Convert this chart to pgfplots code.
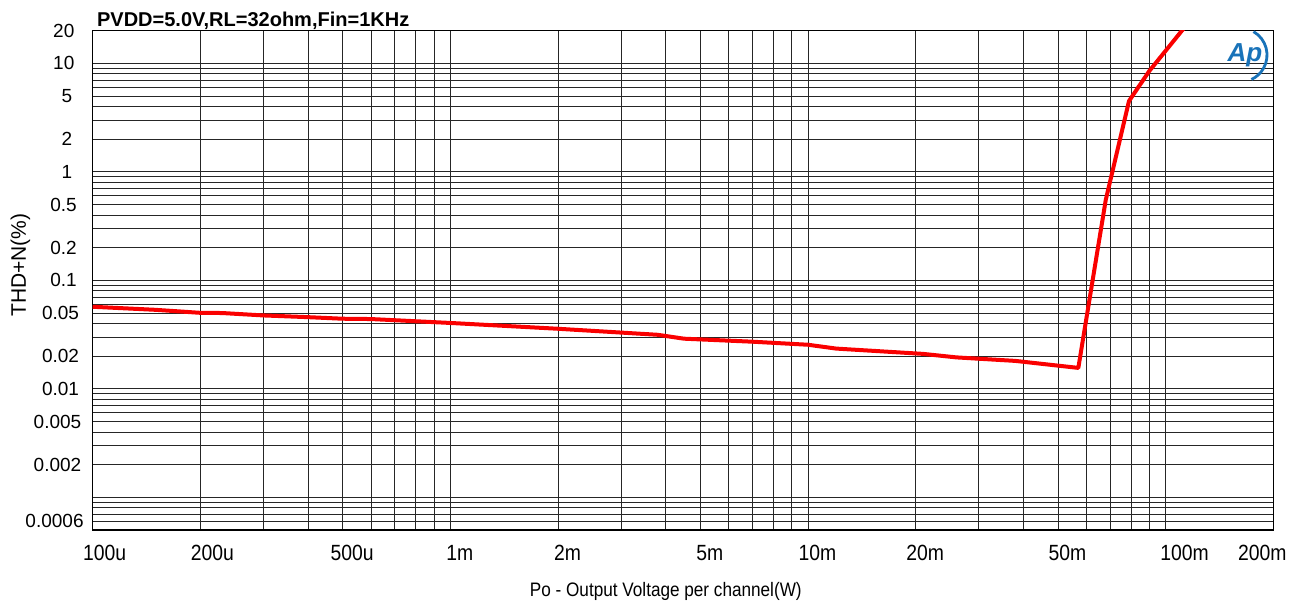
\documentclass[border=0pt]{standalone}
\usepackage{fontspec}
\setmainfont{Liberation Sans}
\newfontfamily\narrowsans[FakeStretch=0.88]{Liberation Sans}
\usepackage{pgfplots}
\pgfplotsset{compat=1.18}
\definecolor{apblue}{RGB}{25,115,185}
\definecolor{curvered}{RGB}{250,0,0}

\begin{document}
\begin{tikzpicture}
\useasboundingbox (0,0) rectangle (649.5pt,303.5pt);
\begin{axis}[
  at={(46.35pt,38.5pt)}, anchor=south west,
  scale only axis, width=590.3pt, height=249.65pt,
  xmode=log, ymode=log,
  xmin=1e-4, xmax=0.2, ymin=0.0005, ymax=20,
  xtick={1e-4,2e-4,5e-4,1e-3,2e-3,5e-3,0.01,0.02,0.05,0.1,0.2},
  xticklabels={{\hspace*{2.5pt}100u},{\hspace*{2.5pt}200u},500u,1m,2m,5m,10m,20m,50m,{\hspace*{9.5pt}100m},{200m\hspace*{20.5pt}}},
  ytick={0.0006,0.002,0.005,0.01,0.02,0.05,0.1,0.2,0.5,1,2,5,10,20},
  yticklabels={{0.0006\hspace*{0.35pt}},{0.002\hspace*{1.5pt}},{0.005\hspace*{1.5pt}},{0.01\hspace*{2.65pt}},{0.02\hspace*{2.65pt}},{0.05\hspace*{2.65pt}},{0.1\hspace*{3.8pt}},{0.2\hspace*{3.8pt}},{0.5\hspace*{3.8pt}},{1\hspace*{6.1pt}},{2\hspace*{6.1pt}},{5\hspace*{6.1pt}},{10\hspace*{4.95pt}},{20\hspace*{4.95pt}}},
  minor xtick={1e-4,2e-4,3e-4,4e-4,5e-4,6e-4,7e-4,8e-4,9e-4,
               1e-3,2e-3,3e-3,4e-3,5e-3,6e-3,7e-3,8e-3,9e-3,
               0.01,0.02,0.03,0.04,0.05,0.06,0.07,0.08,0.09,0.1,0.2},
  minor ytick={0.0006,0.0007,0.0008,0.0009,
               0.001,0.002,0.003,0.004,0.005,0.006,0.007,0.008,0.009,
               0.01,0.02,0.03,0.04,0.05,0.06,0.07,0.08,0.09,
               0.1,0.2,0.3,0.4,0.5,0.6,0.7,0.8,0.9,
               1,2,3,4,5,6,7,8,9,10,20},
  xmajorgrids, ymajorgrids, xminorgrids, yminorgrids,
  grid style={black!85, line width=0.45pt},
  minor grid style={black!85, line width=0.45pt},
  major tick length=0pt, minor tick length=0pt,
  axis line style={black, line width=0.6pt},
  xticklabel style={font=\narrowsans\fontsize{11}{13}\selectfont, anchor=north, inner sep=0pt, yshift=-7.5pt, xshift=4.75pt},
  yticklabel style={font=\fontsize{9.5}{11}\selectfont, anchor=east, inner sep=0pt, xshift=-4pt},
]
% THD+N versus output power
\addplot[curvered, line width=2pt, line join=round] coordinates {
  (1e-4,0.0571) (1.5e-4,0.0535) (2e-4,0.0502) (2.3e-4,0.0500)
  (3e-4,0.0475) (4e-4,0.0458) (5e-4,0.0443) (6e-4,0.0440)
  (1e-3,0.0405) (2e-3,0.0358) (3.8e-3,0.0315) (4.5e-3,0.0290)
  (7e-3,0.0272) (1e-2,0.0255) (1.2e-2,0.0235) (2.1e-2,0.0210)
  (2.6e-2,0.0195) (3.8e-2,0.0181) (5.7e-2,0.0156) (6.8e-2,0.55)
  (7.9e-2,4.5) (9.0e-2,8.5) (0.111,20) (0.125,32)
};
\end{axis}
% title, axis titles and logo
\node[anchor=base west, inner sep=0pt, font=\bfseries\fontsize{10}{12}\selectfont] at (48.35pt,290.5pt) {PVDD=5.0V,RL=32ohm,Fin=1KHz};
\node[anchor=base, inner sep=0pt, font=\narrowsans\fontsize{9.75}{12}\selectfont] at (332.9pt,5.15pt) {Po - Output Voltage per channel(W)};
\node[rotate=90, anchor=base, inner sep=0pt, font=\fontsize{10.5}{12}\selectfont] at (13pt,171pt) {THD+N(\%)};
\node[text=apblue, inner sep=0pt, font=\bfseries\itshape\fontsize{13}{15}\selectfont] at (622.5pt,276pt) {Ap};
\draw[apblue, line width=1.4pt] (620pt,276pt) ++(60:13.5pt) arc[start angle=60, end angle=-65, radius=13.5pt];
\end{tikzpicture}
\end{document}
